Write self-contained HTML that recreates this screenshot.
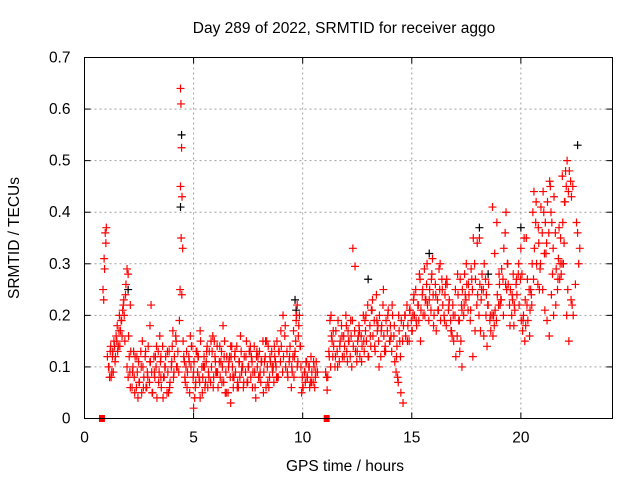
<!DOCTYPE html>
<html><head><meta charset="utf-8"><style>
body{margin:0;background:#fff}
svg{display:block;font-family:"Liberation Sans",sans-serif}
</style></head><body>
<svg id="chart" width="640" height="480" xmlns="http://www.w3.org/2000/svg">
<rect width="640" height="480" fill="#fff"/>
<text x="344" y="33" font-size="15.5" text-anchor="middle">Day 289 of 2022, SRMTID for receiver aggo</text>
<text transform="translate(19,238) rotate(-90)" font-size="15.5" text-anchor="middle">SRMTID / TECUs</text>
<text x="345" y="471" font-size="15.5" text-anchor="middle">GPS time / hours</text>
<g id="grid"></g><g id="ticks"></g><g id="black"></g><g id="red"></g>
<rect x="84.5" y="57.5" width="528" height="361" fill="none" stroke="#000" stroke-width="1"/>
</svg>
<script>
const xTicks=[0,5,10,15,20];
const yTicks=[0,0.1,0.2,0.3,0.4,0.5,0.6,0.7];
const yTickLabels=["0","0.1","0.2","0.3","0.4","0.5","0.6","0.7"];
const redT=[0.85,0.88,0.9,0.92,0.95,0.98,1.0,1.05,1.1,1.15,1.2,1.25,1.3,1.35,1.4,1.45,1.5,1.55,1.6,1.65,1.7,1.75,1.8,1.85,1.9,1.95,2.0,2.05,2.1,2.0,1.95,2.1,2.2,2.3,2.4,2.5,2.6,2.7,2.8,2.9,3.0,3.1,3.2,3.3,3.4,3.5,3.6,3.7,3.8,3.9,4.0,4.1,4.2,2.25,2.45,2.65,2.85,3.05,3.25,3.45,3.65,3.85,4.05,4.25,3.0,3.5,4.4,4.42,4.45,4.4,4.47,4.43,4.5,4.38,4.46,4.35,4.55,4.6,4.7,4.8,4.9,5.0,5.1,5.2,5.3,5.4,5.5,5.6,5.7,5.8,5.9,6.0,6.1,6.2,6.3,6.4,6.5,6.6,6.7,6.8,6.9,7.0,7.1,7.2,7.3,7.4,7.5,7.6,7.7,7.8,7.9,8.0,8.1,8.2,8.3,8.4,8.5,8.6,8.7,8.8,8.9,9.0,4.65,4.85,5.05,5.25,5.45,5.65,5.85,6.05,6.25,6.45,6.65,6.85,7.05,7.25,7.45,7.65,7.85,8.05,8.25,8.45,8.65,8.85,5.15,5.55,5.95,6.35,6.75,7.15,7.55,7.95,8.35,8.75,6.7,6.72,5.0,5.3,9.1,9.2,9.3,9.4,9.5,9.6,9.65,9.7,9.75,9.8,9.85,9.9,10.0,10.1,10.2,10.3,10.4,10.5,10.6,9.55,9.75,9.95,10.15,10.35,10.55,11.05,11.1,11.12,11.15,11.2,11.25,11.3,11.35,11.4,11.5,11.6,11.7,11.8,11.9,12.0,12.05,12.1,12.2,12.3,12.4,12.5,12.6,12.7,12.8,12.9,13.0,13.1,13.2,13.3,13.4,13.5,13.6,13.7,13.8,13.9,14.0,14.1,14.2,14.3,14.35,14.4,14.45,14.5,14.6,12.25,12.55,12.85,13.15,13.45,13.75,14.05,14.7,14.8,14.9,15.0,15.1,15.2,15.3,15.4,15.5,15.6,15.7,15.8,15.9,16.0,16.1,16.2,16.3,16.4,16.5,16.6,16.7,16.8,16.9,17.0,17.1,17.2,17.3,17.4,17.5,17.6,17.7,17.8,17.9,15.05,15.35,15.65,15.95,16.25,16.55,16.85,17.15,17.45,17.75,17.25,17.3,18.0,18.1,18.2,18.3,18.4,18.5,18.6,18.7,18.8,18.9,19.0,19.1,19.2,19.3,19.4,19.5,19.6,19.7,19.8,19.9,18.15,18.45,18.75,19.05,19.35,19.65,20.0,20.05,20.1,20.2,20.3,20.4,20.5,20.6,20.7,20.8,20.9,21.0,21.1,21.2,21.3,21.4,21.5,21.6,21.7,21.8,21.9,20.25,20.55,20.85,21.15,21.45,21.75,22.0,22.05,22.1,22.2,22.3,22.4,22.5,22.6,22.65,22.7,22.15,22.35,22.55,21.95,21.85,20.15,20.45,21.05,21.35];
const redV=[0.25,0.23,0.31,0.29,0.36,0.34,0.37,0.12,0.1,0.08,0.14,0.09,0.13,0.15,0.11,0.16,0.18,0.14,0.2,0.17,0.19,0.21,0.23,0.15,0.26,0.29,0.28,0.12,0.22,0.08,0.1,0.06,0.09,0.05,0.12,0.07,0.1,0.06,0.13,0.08,0.11,0.05,0.09,0.14,0.07,0.12,0.04,0.1,0.13,0.06,0.11,0.09,0.15,0.13,0.04,0.15,0.06,0.22,0.12,0.16,0.08,0.05,0.17,0.1,0.18,0.08,0.64,0.61,0.525,0.45,0.43,0.35,0.33,0.25,0.24,0.19,0.12,0.08,0.06,0.11,0.14,0.09,0.07,0.12,0.17,0.05,0.1,0.13,0.08,0.15,0.06,0.11,0.09,0.14,0.07,0.12,0.05,0.1,0.03,0.08,0.13,0.06,0.11,0.09,0.07,0.12,0.1,0.14,0.06,0.09,0.13,0.08,0.11,0.05,0.15,0.07,0.12,0.1,0.14,0.08,0.13,0.17,0.1,0.16,0.04,0.08,0.1,0.06,0.13,0.09,0.11,0.05,0.12,0.08,0.06,0.1,0.07,0.12,0.04,0.09,0.11,0.06,0.1,0.08,0.13,0.07,0.15,0.18,0.14,0.16,0.13,0.12,0.15,0.11,0.14,0.12,0.02,0.04,0.2,0.18,0.09,0.12,0.1,0.08,0.13,0.19,0.22,0.16,0.2,0.14,0.06,0.09,0.08,0.1,0.07,0.11,0.09,0.12,0.1,0.05,0.11,0.07,0.06,0.09,0.08,0.055,0.08,0.13,0.19,0.2,0.15,0.17,0.12,0.1,0.14,0.16,0.12,0.18,0.11,0.15,0.19,0.33,0.295,0.13,0.17,0.11,0.15,0.2,0.12,0.16,0.23,0.14,0.19,0.1,0.17,0.25,0.13,0.2,0.15,0.22,0.18,0.12,0.08,0.2,0.15,0.05,0.03,0.1,0.16,0.19,0.21,0.18,0.13,0.16,0.2,0.15,0.21,0.17,0.24,0.19,0.22,0.15,0.25,0.2,0.3,0.23,0.27,0.18,0.24,0.21,0.3,0.25,0.19,0.27,0.22,0.17,0.2,0.25,0.28,0.13,0.1,0.22,0.3,0.26,0.21,0.12,0.17,0.2,0.28,0.23,0.31,0.29,0.26,0.16,0.19,0.24,0.27,0.15,0.21,0.34,0.35,0.25,0.16,0.2,0.22,0.2,0.41,0.32,0.38,0.28,0.23,0.2,0.26,0.3,0.18,0.24,0.22,0.27,0.3,0.17,0.14,0.2,0.22,0.25,0.28,0.33,0.28,0.19,0.23,0.27,0.16,0.22,0.44,0.42,0.37,0.3,0.25,0.21,0.19,0.16,0.24,0.2,0.22,0.27,0.3,0.47,0.35,0.4,0.25,0.32,0.28,0.37,0.42,0.48,0.2,0.15,0.23,0.2,0.26,0.36,0.3,0.33,0.25,0.22,0.38,0.3,0.28,0.35,0.25,0.4,0.45,0.53,0.54,0.47,0.33,0.42,0.27,0.38,0.49,0.36,0.23,0.13,0.3];
const red2T=[1.12,1.18,1.22,1.28,1.32,1.38,1.42,1.48,1.52,1.58,1.62,1.68,1.72,1.78,1.82,1.88,2.02,2.08,2.12,2.18,2.22,2.28,2.32,2.38,2.42,2.48,2.52,2.58,2.62,2.68,2.72,2.78,2.82,2.88,2.92,2.98,3.02,3.08,3.12,3.18,3.22,3.28,3.32,3.38,3.42,3.48,3.52,3.58,3.62,3.68,3.72,3.78,3.82,3.88,3.92,3.98,4.02,4.08,4.12,4.18,4.22,4.28,4.32,4.52,4.58,4.62,4.68,4.72,4.78,4.82,4.88,4.92,4.98,5.02,5.08,5.12,5.18,5.22,5.28,5.32,5.38,5.42,5.48,5.52,5.58,5.62,5.68,5.72,5.78,5.82,5.88,5.92,5.98,6.02,6.08,6.12,6.18,6.22,6.28,6.32,6.38,6.42,6.48,6.52,6.58,6.62,6.68,6.78,6.82,6.88,6.92,6.98,7.02,7.08,7.12,7.18,7.22,7.28,7.32,7.38,7.42,7.48,7.52,7.58,7.62,7.68,7.72,7.78,7.82,7.88,7.92,7.98,8.02,8.08,8.12,8.18,8.22,8.28,8.32,8.38,8.42,8.48,8.52,8.58,8.62,8.68,8.72,8.78,8.82,8.88,8.92,8.98,9.02,9.08,9.12,9.18,9.22,9.28,9.32,9.38,9.42,9.48,9.52,9.58,9.62,9.68,9.72,9.78,9.82,9.88,9.92,9.98,10.02,10.08,10.12,10.18,10.22,10.28,10.32,10.38,10.42,10.48,10.52,10.58,10.62,10.68,11.22,11.28,11.32,11.38,11.42,11.48,11.52,11.58,11.62,11.68,11.72,11.78,11.82,11.88,11.92,11.98,12.02,12.08,12.12,12.18,12.22,12.28,12.32,12.38,12.42,12.48,12.52,12.58,12.62,12.68,12.72,12.78,12.82,12.88,12.92,12.98,13.02,13.08,13.12,13.18,13.22,13.28,13.32,13.38,13.42,13.48,13.52,13.58,13.62,13.68,13.72,13.78,13.82,13.88,13.92,13.98,14.02,14.08,14.12,14.18,14.22,14.28,14.32,14.38,14.42,14.48,14.52,14.58,14.62,14.68,14.72,14.78,14.82,14.88,14.92,14.98,15.02,15.08,15.12,15.18,15.22,15.28,15.32,15.38,15.42,15.48,15.52,15.58,15.62,15.68,15.72,15.78,15.82,15.88,15.92,15.98,16.02,16.08,16.12,16.18,16.22,16.28,16.32,16.38,16.42,16.48,16.52,16.58,16.62,16.68,16.72,16.78,16.82,16.88,16.92,16.98,17.02,17.08,17.12,17.18,17.22,17.28,17.32,17.38,17.42,17.48,17.52,17.58,17.62,17.68,17.72,17.78,17.82,17.88,17.92,17.98,18.02,18.08,18.12,18.18,18.22,18.28,18.32,18.38,18.42,18.48,18.52,18.58,18.62,18.68,18.72,18.78,18.82,18.88,18.92,18.98,19.02,19.08,19.12,19.18,19.22,19.28,19.32,19.38,19.42,19.48,19.52,19.58,19.62,19.68,19.72,19.78,19.82,19.88,19.92,19.98,20.02,20.08,20.12,20.18,20.22,20.28,20.32,20.38,20.42,20.48,20.52,20.58,20.62,20.68,20.72,20.78,20.82,20.88,20.92,20.98,21.02,21.08,21.12,21.18,21.22,21.28,21.32,21.38,21.42,21.48,21.52,21.58,21.62,21.68,21.72,21.78,21.82,21.88,21.92,21.98,22.02,22.08,22.12,22.18,22.22,22.28,22.32,22.38,22.42,22.48,22.52,22.58,22.62,22.68,22.72,22.76];
const red2V=[0.1,0.13,0.08,0.12,0.09,0.14,0.12,0.15,0.13,0.17,0.14,0.19,0.16,0.22,0.2,0.24,0.16,0.09,0.13,0.06,0.1,0.08,0.12,0.06,0.09,0.11,0.07,0.13,0.05,0.1,0.08,0.12,0.06,0.09,0.14,0.07,0.11,0.09,0.05,0.12,0.08,0.1,0.04,0.13,0.09,0.11,0.06,0.14,0.08,0.1,0.12,0.05,0.09,0.13,0.07,0.1,0.14,0.08,0.12,0.16,0.1,0.13,0.09,0.15,0.11,0.07,0.13,0.09,0.12,0.05,0.1,0.14,0.08,0.11,0.06,0.13,0.09,0.12,0.07,0.15,0.1,0.08,0.12,0.06,0.11,0.14,0.09,0.13,0.07,0.1,0.16,0.08,0.12,0.09,0.14,0.06,0.11,0.08,0.13,0.1,0.07,0.15,0.09,0.12,0.05,0.11,0.08,0.1,0.06,0.12,0.09,0.14,0.07,0.11,0.08,0.13,0.1,0.06,0.12,0.09,0.15,0.07,0.1,0.13,0.08,0.11,0.09,0.14,0.06,0.12,0.1,0.08,0.13,0.07,0.11,0.15,0.09,0.12,0.06,0.1,0.14,0.08,0.11,0.13,0.09,0.07,0.12,0.1,0.15,0.08,0.13,0.11,0.14,0.09,0.12,0.16,0.1,0.13,0.08,0.11,0.14,0.06,0.09,0.17,0.12,0.15,0.2,0.11,0.18,0.14,0.1,0.08,0.06,0.09,0.07,0.11,0.08,0.1,0.06,0.12,0.09,0.07,0.1,0.08,0.11,0.09,0.12,0.1,0.16,0.12,0.14,0.1,0.17,0.13,0.19,0.11,0.15,0.18,0.12,0.16,0.14,0.2,0.13,0.17,0.15,0.12,0.16,0.19,0.14,0.17,0.13,0.11,0.15,0.18,0.12,0.16,0.14,0.2,0.13,0.17,0.15,0.22,0.12,0.18,0.14,0.21,0.16,0.19,0.13,0.24,0.17,0.15,0.2,0.12,0.18,0.22,0.16,0.14,0.19,0.17,0.21,0.15,0.18,0.13,0.2,0.16,0.11,0.09,0.14,0.07,0.17,0.12,0.19,0.15,0.18,0.2,0.16,0.22,0.18,0.15,0.21,0.19,0.17,0.23,0.2,0.25,0.18,0.22,0.19,0.27,0.21,0.24,0.2,0.29,0.23,0.26,0.22,0.19,0.25,0.21,0.28,0.24,0.2,0.26,0.17,0.23,0.21,0.25,0.19,0.27,0.22,0.2,0.24,0.18,0.26,0.21,0.23,0.19,0.17,0.22,0.15,0.2,0.12,0.16,0.24,0.19,0.27,0.22,0.25,0.2,0.28,0.23,0.26,0.21,0.24,0.19,0.29,0.25,0.35,0.3,0.27,0.22,0.24,0.2,0.26,0.23,0.28,0.25,0.3,0.27,0.24,0.22,0.26,0.19,0.17,0.2,0.16,0.18,0.21,0.19,0.24,0.22,0.26,0.23,0.29,0.27,0.33,0.36,0.4,0.3,0.26,0.22,0.25,0.2,0.23,0.18,0.21,0.26,0.24,0.28,0.22,0.27,0.19,0.17,0.2,0.15,0.18,0.22,0.19,0.25,0.21,0.24,0.3,0.27,0.33,0.38,0.3,0.26,0.34,0.29,0.41,0.36,0.44,0.32,0.38,0.34,0.42,0.36,0.46,0.4,0.38,0.33,0.43,0.36,0.29,0.25,0.31,0.27,0.35,0.3,0.38,0.34,0.42,0.45,0.5,0.44,0.48,0.46,0.43,0.45];
const blackT=[1.3,2.0,4.45,4.4,9.65,9.7,13.0,15.8,18.1,18.5,20.0,22.6];
const blackV=[0.13,0.25,0.55,0.41,0.23,0.21,0.27,0.32,0.37,0.28,0.37,0.53];
const zeroT=[0.8,11.1];
const L=84.5,R=612.5,T=57.5,B=418.5,XMAX=24.2,YMAX=0.7;
const xs=t=>L+t/XMAX*(R-L), ys=v=>B-v/YMAX*(B-T);
const NS="http://www.w3.org/2000/svg";
function mk(tag,attrs,parent){const e=document.createElementNS(NS,tag);for(const k in attrs)e.setAttribute(k,attrs[k]);parent.appendChild(e);return e;}
const grid=document.getElementById('grid'),ticks=document.getElementById('ticks');
xTicks.forEach(t=>{const x=xs(t);
 if(t>0){const g=mk('line',{x1:x,x2:x,y1:T,y2:B,stroke:'#a0a0a0','stroke-dasharray':'2,3'},grid);
 
 }
 mk('line',{x1:x,x2:x,y1:B,y2:B-6,stroke:'#000'},ticks);mk('line',{x1:x,x2:x,y1:T,y2:T+6,stroke:'#000'},ticks);
 const l=mk('text',{x:x,y:B+24,'font-size':15.5,'text-anchor':'middle'},ticks);l.textContent=t;
 
 });
yTicks.forEach((v,i)=>{const y=ys(v);
 if(v>0&&v<YMAX){const g=mk('line',{x1:L,x2:R,y1:y,y2:y,stroke:'#a0a0a0','stroke-dasharray':'2,3'},grid);
 
 }
 mk('line',{x1:L,x2:L+6,y1:y,y2:y,stroke:'#000'},ticks);mk('line',{x1:R,x2:R-6,y1:y,y2:y,stroke:'#000'},ticks);
 const l=mk('text',{x:L-14,y:y+5,'font-size':15.5,'text-anchor':'end'},ticks);l.textContent=yTickLabels[i];
 
 });
function plus(g,t,v,c,name){const x=xs(t),y=ys(v);
 const p=mk('path',{d:`M${x-4},${y}H${x+4}M${x},${y-4}V${y+4}`,stroke:c,'stroke-width':1.2,fill:'none'},g);
 
 }
const gb=document.getElementById('black'),gr=document.getElementById('red');
blackT.forEach((t,i)=>plus(gb,t,blackV[i],'#000','black-point'));
redT.forEach((t,i)=>plus(gr,t,redV[i],'#f00','red-point'));
red2T.forEach((t,i)=>plus(gr,t,red2V[i],'#f00','red-point'));
zeroT.forEach(t=>{const r=mk('rect',{x:xs(t)-3,y:B-3.5,width:6,height:7,fill:'#f00'},gr);
 
 });
</script>
</body></html>
